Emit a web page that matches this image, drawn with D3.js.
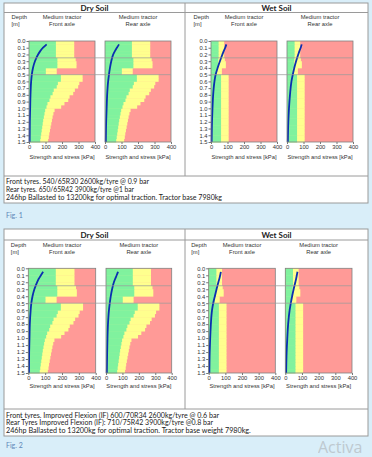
<!DOCTYPE html>
<html><head><meta charset="utf-8">
<script src="https://cdn.jsdelivr.net/npm/d3@7"></script>
<style>
body{margin:0;background:#d9eef9;}
svg{display:block}
</style>
</head><body>
<svg id="c" width="372" height="457"></svg>
<script>
// ---------- DATA ----------
const binSize = 0.05;
const depthBins = [0.00,0.05,0.10,0.15,0.20,0.25,0.30,0.35,0.40,0.45,0.50,0.55,0.60,0.65,0.70,0.75,0.80,0.85,0.90,0.95,1.00,1.05,1.10,1.15,1.20,1.25,1.30,1.35,1.40,1.45];
// soil strength limits [kPa] (green = safe, yellow = marginal, beyond = red)
const dryGreen  = [163,163,163,163,163,172,172,172,102,102,193,193,175,168,150,143,130,124,112,106,98,94,90,86,83,80,77,74,71,68];
const dryYellow = [274,274,274,274,274,283,288,288,168,168,325,325,305,298,278,268,246,238,215,195,155,148,143,139,135,131,127,123,120,116];
const wetGreen  = [46,46,46,46,46,44,42,42,35,35,61,61,61,61,61,61,61,61,61,61,61,61,61,61,61,61,61,61,61,61];
const wetYellow = [80,80,80,80,80,84,90,90,66,66,107,107,107,107,107,107,107,107,107,107,107,107,107,107,107,107,107,107,107,107];
// stress curves [kPa] at depths [m]
const stressDepth = [0.05,0.10,0.15,0.20,0.30,0.40,0.50,0.60,0.80,1.00,1.20,1.50];
const fig1DryFront = [107,85,68,55,36,24,17,13,9,7,5,4];
const fig1DryRear  = [85,72,60,50,38,30,24,19,13,10,7,5];
const fig1WetFront = [93,86,77,69,54,40,28,21,13,9,6,4];
const fig1WetRear  = [89,83,75,68,55,44,35,27,18,12,8,5];
const fig2DryFront = [88,75,62,52,36,25,18,14,9,7,5,4];
const fig2DryRear  = [73,65,56,48,37,29,23,18,12,9,7,5];
const fig2WetFront = [73,69,64,58,47,37,27,20,13,9,6,4];
const fig2WetRear  = [73,69,65,60,50,41,33,26,17,12,8,5];
const referenceDepths = [0.25, 0.5];
const depthTicks = [0,0.1,0.2,0.3,0.4,0.5,0.6,0.7,0.8,0.9,1.0,1.1,1.2,1.3,1.4,1.5];
const kpaTicks = [0,100,200,300,400];
const soilTitles = ["Dry Soil","Wet Soil"];
const axleTitles = [["Medium tractor","Front axle"],["Medium tractor","Rear axle"]];
const depthTitle = ["Depth","[m]"];
const xTitle = "Strength and stress [kPa]";
const fig1Notes = ["Front tyres. 540/65R30 2600kg/tyre @ 0.9 bar","Rear tyres. 650/65R42 3900kg/tyre @1 bar","246hp Ballasted to 13200kg for optimal traction. Tractor base 7980kg"];
const fig2Notes = ["Front tyres.  Improved Flexion (IF) 600/70R34 2600kg/tyre @ 0.6 bar","Rear Tyres Improved Flexion (IF): 710/75R42 3900kg/tyre @0.8 bar","246hp Ballasted to 13200kg for optimal traction.  Tractor base weight 7980kg."];
const figLabels = ["Fig. 1","Fig. 2"];
const watermark = "Activa";

// ---------- DRAW ----------
const svg = d3.select("#c");
const C = {green:"#80f29e", yellow:"#ffff8e", red:"#ff9a97", blue:"#0b2fb0"};
const chartFont = "Liberation Sans, Arial, sans-serif";
const textFont = "Lato, sans-serif";

const figs = [
  {top:3,bottom:203,headerY:8.3,headerLine:12.5,row1:16.8,row2:24,plotTop:41,plotBottom:142,tickY:147.5,titleY:156.5,sepY:176,
   textY:[181,189,197],figY:216,label:figLabels[0],notes:fig1Notes,noteW:[143,128,216],
   panels:[{x:[[29,95],[105,171]],curves:[fig1DryFront,fig1DryRear],g:dryGreen,y:dryYellow},
           {x:[[211,277],[287,353]],curves:[fig1WetFront,fig1WetRear],g:wetGreen,y:wetYellow}]},
  {top:229,bottom:436,headerY:235,headerLine:240,row1:245.3,row2:252.3,plotTop:268.3,plotBottom:373,tickY:378.3,titleY:385.5,sepY:409,
   textY:[415.3,422.8,430.3],figY:446,label:figLabels[1],notes:fig2Notes,noteW:[213,207,243],
   panels:[{x:[[28.3,95.7],[106,171.7]],curves:[fig2DryFront,fig2DryRear],g:dryGreen,y:dryYellow},
           {x:[[208.7,275.3],[285.3,352]],curves:[fig2WetFront,fig2WetRear],g:wetGreen,y:wetYellow}]}
];

const boxL = 4, boxR = 368, divX = 185;

figs.forEach(f => {
  const g = svg.append("g");
  g.append("rect").attr("x",boxL).attr("y",f.top).attr("width",boxR-boxL).attr("height",f.bottom-f.top)
    .attr("fill","#fff").attr("stroke","#9a9a9a").attr("stroke-width",1);
  g.append("line").attr("x1",boxL).attr("x2",boxR).attr("y1",f.headerLine).attr("y2",f.headerLine).attr("stroke","#9a9a9a");
  g.append("line").attr("x1",boxL).attr("x2",boxR).attr("y1",f.sepY).attr("y2",f.sepY).attr("stroke","#9a9a9a");
  g.append("line").attr("x1",divX).attr("x2",divX).attr("y1",f.top).attr("y2",f.sepY).attr("stroke","#9a9a9a");

  // headers
  [[boxL,divX],[divX,boxR]].forEach((r,i)=>{
    g.append("text").attr("x",(r[0]+r[1])/2).attr("y",f.headerY).attr("dy","0.35em")
      .attr("text-anchor","middle").attr("font-family",textFont).attr("font-weight","bold")
      .attr("font-size",8).attr("fill","#222").text(soilTitles[i]);
  });

  f.panels.forEach((p,pi) => {
    const depthX = p.x[0][0] - 17.5;
    g.append("text").attr("x",depthX).attr("y",f.row1).attr("dy","0.35em").attr("font-family",chartFont)
      .attr("font-size",5.8).attr("fill","#333").text(depthTitle[0]);
    g.append("text").attr("x",depthX).attr("y",f.row2).attr("dy","0.35em").attr("font-family",chartFont)
      .attr("font-size",5.8).attr("fill","#333").text(depthTitle[1]);

    p.x.forEach((xr,ai) => {
      const x = d3.scaleLinear().domain([0,400]).range(xr);
      const y = d3.scaleLinear().domain([0,1.5]).range([f.plotTop,f.plotBottom]);
      const cx = (xr[0]+xr[1])/2;
      axleTitles[ai].forEach((t,ti)=>{
        g.append("text").attr("x",cx).attr("y",ti?f.row2:f.row1).attr("dy","0.35em").attr("text-anchor","middle")
          .attr("font-family",chartFont).attr("font-size",5.8).attr("fill","#333").text(t);
      });
      const pg = g.append("g");
      // red background (stress beyond yellow limit up to 400 kPa)
      pg.append("rect").attr("x",x(0)).attr("y",y(0)).attr("width",x(400)-x(0)).attr("height",y(1.5)-y(0)).attr("fill",C.red);
      pg.selectAll(".yb").data(depthBins).join("rect")
        .attr("x",x(0)).attr("y",d=>y(d)).attr("width",(d,i)=>x(p.y[i])-x(0))
        .attr("height",d=>y(d+binSize)-y(d)+0.4).attr("fill",C.yellow);
      pg.selectAll(".gb").data(depthBins).join("rect")
        .attr("x",x(0)).attr("y",d=>y(d)).attr("width",(d,i)=>x(p.g[i])-x(0))
        .attr("height",d=>y(d+binSize)-y(d)+0.4).attr("fill",C.green);
      // stress curve
      const pts = stressDepth.map((d,i)=>({d, s:p.curves[ai][i]}));
      pg.append("path").datum(pts).attr("fill","none").attr("stroke",C.blue).attr("stroke-width",1.8)
        .attr("d", d3.line().x(d=>x(d.s)).y(d=>y(d.d)).curve(d3.curveMonotoneY));
      // frame
      pg.append("rect").attr("x",x(0)).attr("y",y(0)).attr("width",x(400)-x(0)).attr("height",y(1.5)-y(0))
        .attr("fill","none").attr("stroke","#808080").attr("stroke-width",0.8);

      // axes
      const xa = g.append("g").attr("transform",`translate(0,${f.plotBottom})`)
        .call(d3.axisBottom(x).tickValues(kpaTicks).tickSize(2).tickPadding(1.5));
      xa.select(".domain").remove();
      xa.selectAll("line").attr("stroke","#777");
      xa.selectAll("text").attr("font-family",chartFont).attr("font-size",5.8).attr("fill","#333")
        .attr("y",null).attr("dy",null).attr("transform",`translate(0,${f.tickY-f.plotBottom})`).attr("dominant-baseline","middle");
      if (ai===0) {
        const ya = g.append("g").attr("transform",`translate(${xr[0]},0)`)
          .call(d3.axisLeft(y).tickValues(depthTicks).tickFormat(d3.format(".1f")).tickSize(2.5).tickPadding(1));
        ya.select(".domain").remove();
        ya.selectAll("line").attr("stroke","#777");
        ya.selectAll("text").attr("font-family",chartFont).attr("font-size",5.8).attr("fill","#333");
      }
      g.append("text").attr("x",cx).attr("y",f.titleY).attr("dy","0.35em").attr("text-anchor","middle")
        .attr("font-family",chartFont).attr("font-size",5.8).attr("fill","#333").text(xTitle);
    });
    // reference depth lines spanning both plots
    const yRef = d3.scaleLinear().domain([0,1.5]).range([f.plotTop,f.plotBottom]);
    g.selectAll(null).data(referenceDepths).join("line")
      .attr("x1",p.x[0][0]).attr("x2",p.x[1][1]).attr("y1",d=>yRef(d)).attr("y2",d=>yRef(d))
      .attr("stroke","#9a9a9a").attr("stroke-width",0.8).attr("opacity",0.9);
  });

  // notes
  f.notes.forEach((t,i)=>{
    const tx = g.append("text").attr("x",6).attr("y",f.textY[i]).attr("dy","0.35em")
      .attr("font-family",textFont).attr("font-size",7.2).attr("fill","#1a1a1a").text(t);
    const w = tx.node().getComputedTextLength();
    if (Math.abs(w - f.noteW[i]) > 2) tx.attr("textLength",f.noteW[i]).attr("lengthAdjust","spacingAndGlyphs");
  });
  svg.append("text").attr("x",6).attr("y",f.figY).attr("dy","0.35em").attr("font-family",textFont)
    .attr("font-size",7).attr("fill","#5d86b8").text(f.label);
});

svg.append("text").attr("x",318).attr("y",453).attr("font-family","Open Sans, sans-serif")
  .attr("font-size",16).attr("fill","#b9c3c9").attr("opacity",0.85).text(watermark);
</script>
</body></html>
